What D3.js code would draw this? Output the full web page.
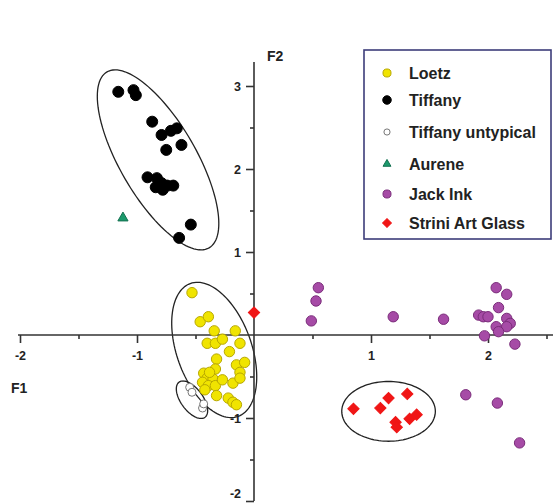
<!DOCTYPE html>
<html>
<head>
<meta charset="utf-8">
<script src="https://cdn.jsdelivr.net/npm/d3@7/dist/d3.min.js"></script>
<style>
  body { margin: 0; background: #fff; }
  text { font-family: "Liberation Sans", Arial, sans-serif; font-weight: bold; fill: #222; }
</style>
</head>
<body>
<svg id="chart" width="553" height="504"></svg>
<script>
// F1 / F2 scores
var loetz = [
  [-0.53, 0.51], [-0.46, 0.16], [-0.39, 0.22], [-0.34, 0.05], [-0.16, 0.05],
  [-0.40, -0.10], [-0.33, -0.10], [-0.27, -0.05], [-0.12, -0.10], [-0.21, -0.20],
  [-0.32, -0.29], [-0.15, -0.36], [-0.08, -0.33], [-0.33, -0.41], [-0.12, -0.45],
  [-0.43, -0.46], [-0.40, -0.52], [-0.35, -0.53], [-0.44, -0.57], [-0.39, -0.61],
  [-0.33, -0.61], [-0.18, -0.58], [-0.32, -0.73], [-0.22, -0.76], [-0.18, -0.81],
  [-0.15, -0.84], [-0.38, -0.45], [-0.27, -0.54], [-0.12, -0.52], [-0.42, -0.66]
];
var tiffany = [
  [-1.16, 2.93], [-1.03, 2.95], [-1.01, 2.89], [-0.87, 2.57], [-0.79, 2.41],
  [-0.71, 2.46], [-0.66, 2.49], [-0.75, 2.23], [-0.62, 2.29], [-0.91, 1.90],
  [-0.83, 1.89], [-0.79, 1.83], [-0.84, 1.78], [-0.78, 1.75], [-0.74, 1.80],
  [-0.69, 1.80], [-0.54, 1.33], [-0.64, 1.17]
];
var tiffanyUntypical = [[-0.55, -0.63], [-0.53, -0.69], [-0.44, -0.88], [-0.43, -0.83]];
var aurene = [[-1.12, 1.41]];
var jackInk = [
  [0.55, 0.57], [0.53, 0.41], [0.49, 0.17], [1.19, 0.22], [1.62, 0.19],
  [1.92, 0.24], [1.96, 0.22], [2.00, 0.22], [2.07, 0.57], [2.16, 0.49],
  [2.09, 0.33], [2.16, 0.20], [2.19, 0.14], [2.16, 0.10], [2.07, 0.10],
  [2.09, 0.04], [1.97, -0.01], [2.23, -0.11], [1.81, -0.72], [2.08, -0.82],
  [2.27, -1.30]
];
var strini = [
  [0.00, 0.27], [0.85, -0.89], [1.08, -0.88], [1.15, -0.76], [1.31, -0.71],
  [1.21, -1.05], [1.22, -1.11], [1.33, -1.01], [1.39, -0.96]
];

var legendLabels = ["Loetz", "Tiffany", "Tiffany untypical", "Aurene", "Jack Ink", "Strini Art Glass"];
var xMajor = [-2, -1, 1, 2];
var yMajor = [-2, -1, 1, 2, 3];
var minorTicks = [-1.5, -0.5, 0.5, 1.5, 2.5];

// group ellipses: centre + two conjugate half-axes, all in F1/F2 units
var groupEllipses = [
  { cx: -0.82, cy: 2.11, ux: 0.436, uy: -1.06, vx: 0.282, vy: 0.229 },
  { cx: -0.34, cy: -0.18, ux: 0.205, uy: -0.80, vx: 0.30, vy: 0.155 },
  { cx: -0.53, cy: -0.78, ux: 0.111, uy: -0.211, vx: 0.075, vy: 0.080 },
  { cx: 1.15, cy: -0.92, ux: 0.40, uy: 0.0, vx: 0.0, vy: 0.36 }
];

var svg = d3.select("#chart");
var x = d3.scaleLinear().domain([-2, 2.5]).range([20, 546.5]);
var y = d3.scaleLinear().domain([-2, 3]).range([501, 86]);

// ellipses
var line = d3.line().curve(d3.curveLinearClosed);
svg.append("g").selectAll("path").data(groupEllipses).enter().append("path")
  .attr("d", function(e) {
    return line(d3.range(0, 2 * Math.PI, Math.PI / 60).map(function(t) {
      return [x(e.cx + e.ux * Math.cos(t) + e.vx * Math.sin(t)),
              y(e.cy + e.uy * Math.cos(t) + e.vy * Math.sin(t))];
    }));
  })
  .attr("fill", "none").attr("stroke", "#222").attr("stroke-width", 1.3);

// axes
var axisColor = "#333";
svg.append("line").attr("x1", x(-2) - 2).attr("x2", 553).attr("y1", y(0)).attr("y2", y(0))
  .attr("stroke", axisColor).attr("stroke-width", 1.6);
svg.append("line").attr("x1", x(0)).attr("x2", x(0)).attr("y1", 62).attr("y2", y(-2))
  .attr("stroke", axisColor).attr("stroke-width", 1.6);

var plain = function(d) { return String(d); };   // hyphen minus like the original
function styleAxis(g) {
  g.select(".domain").remove();
  g.selectAll(".tick line").attr("stroke", axisColor).attr("stroke-width", 1.6);
  g.selectAll(".tick text").attr("font-size", 12.5).attr("fill", "#222")
    .attr("font-family", "Liberation Sans, Arial, sans-serif").attr("font-weight", "bold");
}
svg.append("g").attr("transform", "translate(0," + y(0) + ")")
  .call(d3.axisBottom(x).tickValues(xMajor).tickSize(8).tickPadding(8).tickFormat(plain))
  .call(styleAxis);
svg.append("g").attr("transform", "translate(0," + y(0) + ")")
  .call(d3.axisBottom(x).tickValues(minorTicks).tickSize(4).tickFormat(""))
  .call(styleAxis);
var yAx = svg.append("g").attr("transform", "translate(" + x(0) + ",0)")
  .call(d3.axisLeft(y).tickValues(yMajor).tickSize(8).tickPadding(5).tickFormat(plain))
  .call(styleAxis);
// bottom label sits on the page edge, lift it a little
yAx.selectAll(".tick text").filter(function(d) { return d === -2; }).attr("dy", "-0.3em");
svg.append("g").attr("transform", "translate(" + x(0) + ",0)")
  .call(d3.axisLeft(y).tickValues(minorTicks).tickSize(4).tickFormat(""))
  .call(styleAxis);

svg.append("text").attr("x", 11).attr("y", 393).attr("font-size", 14).text("F1");
svg.append("text").attr("x", 267).attr("y", 61).attr("font-size", 14).text("F2");

// symbols
var styles = [
  { type: d3.symbolCircle, size: 85, fill: "#f0e400", stroke: "#b8a800", rot: 0 },
  { type: d3.symbolCircle, size: 95, fill: "#000", stroke: "#000", rot: 0 },
  { type: d3.symbolCircle, size: 50, fill: "#fff", stroke: "#777", rot: 0 },
  { type: d3.symbolTriangle, size: 45, fill: "#1c9a6c", stroke: "#137050", rot: 0 },
  { type: d3.symbolCircle, size: 85, fill: "#a64ba6", stroke: "#7a2c7a", rot: 0 },
  { type: d3.symbolSquare, size: 64, fill: "#f01616", stroke: "#f01616", rot: 45 }
];
var series = [loetz, tiffany, tiffanyUntypical, aurene, jackInk, strini];

series.forEach(function(pts, i) {
  var s = styles[i];
  svg.append("g").selectAll("path").data(pts).enter().append("path")
    .attr("transform", function(d) {
      return "translate(" + x(d[0]) + "," + y(d[1]) + ") rotate(" + s.rot + ")";
    })
    .attr("d", d3.symbol().type(s.type).size(s.size))
    .attr("fill", s.fill).attr("stroke", s.stroke).attr("stroke-width", 1);
});

// legend
var lg = svg.append("g");
lg.append("rect").attr("x", 364).attr("y", 50).attr("width", 187).attr("height", 189)
  .attr("fill", "#fff").attr("stroke", "#3d3d7a").attr("stroke-width", 1.6);
var rowY = [73, 100, 132, 164, 194, 223];
legendLabels.forEach(function(lab, i) {
  var s = styles[i];
  lg.append("path").attr("transform", "translate(387," + rowY[i] + ") rotate(" + s.rot + ")")
    .attr("d", d3.symbol().type(s.type).size(s.size * 0.6))
    .attr("fill", s.fill).attr("stroke", s.stroke).attr("stroke-width", 1);
  lg.append("text").attr("x", 409).attr("y", rowY[i] + 5.5).attr("font-size", 16).text(lab);
});
</script>
</body>
</html>
